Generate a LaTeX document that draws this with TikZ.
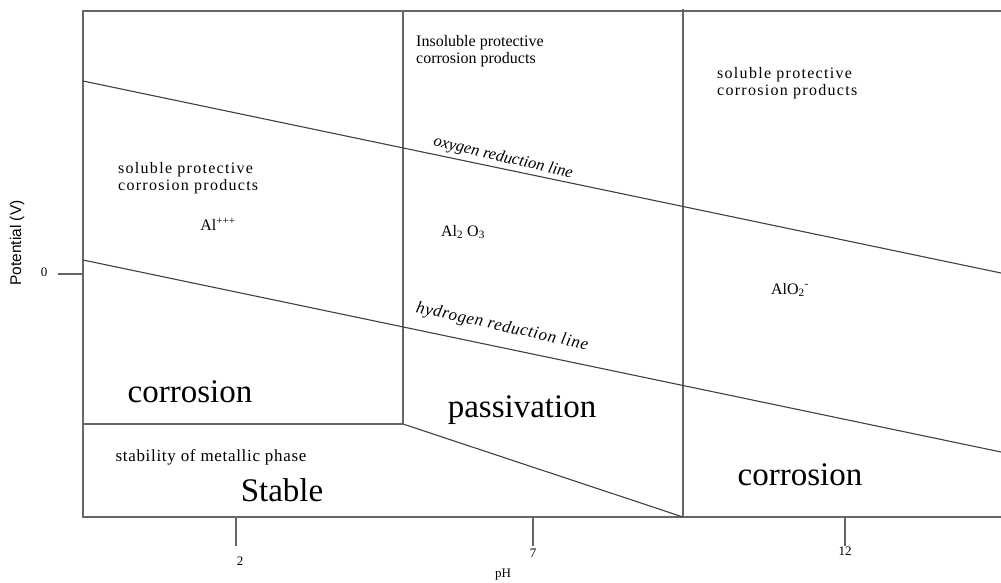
\documentclass[tikz,border=0pt]{standalone}
\usepackage{fontspec}
\setmainfont{Liberation Serif}
\newfontfamily\axfont{Liberation Sans}
\newfontfamily\widefont[LetterSpace=8]{Liberation Serif}
\newfontfamily\midfont[LetterSpace=4]{Liberation Serif}
\begin{document}
\begin{tikzpicture}[x=1pt,y=-1pt,
  frame/.style={draw=black!60,line width=1.5pt},
  bound/.style={draw=black!75,line width=1.1pt},
  small/.style={font=\fontsize{16}{17}\selectfont,inner sep=0pt,align=left},
  wide/.style={font=\widefont\fontsize{16}{17}\selectfont,inner sep=0pt,align=left},
  big/.style={font=\fontsize{33}{36}\selectfont,inner sep=0pt},
  lineLab/.style={font=\fontsize{16.5}{17}\selectfont\itshape,inner sep=0pt},
  tick/.style={font=\fontsize{13}{14}\selectfont,inner sep=0pt}]
\useasboundingbox (0,0) rectangle (1001,583);
% coordinates
\coordinate (TL) at (83,11);
\coordinate (TR) at (1001,11);
\coordinate (BL) at (83,517);
\coordinate (BR) at (1001,517);
\coordinate (V1t) at (403,11);
\coordinate (V1b) at (403,424);
\coordinate (H1l) at (83,424);
\coordinate (V2t) at (683,9);
\coordinate (V2b) at (683,517);
\coordinate (O1) at (83,81);
\coordinate (O2) at (1001,273);
\coordinate (Hy1) at (83,260);
\coordinate (Hy2) at (1001,452);
% frame
\draw[frame] (TR) -- (TL) -- (BL) -- (BR);
\draw[frame] (V1t) -- (V1b);
\draw[frame] (H1l) -- (V1b);
\draw[frame] (V2t) -- (V2b);
\draw[bound] (V1b) -- (V2b);
\draw[bound] (O1) -- (O2);
\draw[bound] (Hy1) -- (Hy2);
% ticks
\coordinate (t2) at (236,517); \coordinate (t2e) at (236,546);
\coordinate (t7) at (533,517); \coordinate (t7e) at (533,546);
\coordinate (t12) at (845,517); \coordinate (t12e) at (845,546);
\coordinate (t0) at (83,274); \coordinate (t0e) at (58,274);
\draw[frame] (t2) -- (t2e) (t7) -- (t7e) (t12) -- (t12e) (t0) -- (t0e);
\node[tick] (l2) at (240,561) {2};
\node[tick] (l7) at (533,553) {7};
\node[tick] (l12) at (845,551) {12};
\node[tick] (lpH) at (503,575) {pH};
\node[tick] (l0) at (44,272) {0};
\node[font=\axfont\fontsize{15.5}{16}\selectfont,inner sep=0pt,rotate=90] (ylab) at (17,243) {Potential (V)};
% region texts
\node[small,anchor=north west] (ins) at (416,35) {Insoluble protective\\corrosion products};
\node[wide,anchor=north west] (solR) at (717,67) {soluble protective\\corrosion products};
\node[wide,anchor=north west] (solL) at (118,162) {soluble protective\\corrosion products};
\node[small] (al3) at (218,224) {Al\textsuperscript{+++}};
\node[small] (al2o3) at (463,232) {Al\textsubscript{2} O\textsubscript{3}};
\node[small] (alo2) at (790,290) {AlO\textsubscript{2}\textsuperscript{-}};
\node[lineLab,rotate=-13] (oxl) at (503,158) {oxygen reduction line};
\node[lineLab,font=\midfont\fontsize{17}{18}\selectfont\itshape,rotate=-12.4] (hyl) at (502,327) {hydrogen reduction line};
\node[big] (corL) at (190,392) {corrosion};
\node[big] (pas) at (522,410) {passivation};
\node[big] (stab) at (282,490) {Stable};
\node[font=\midfont\fontsize{17}{17}\selectfont,inner sep=0pt] (stabtxt) at (211,457) {stability of metallic phase};
\node[big] (corR) at (800,475) {corrosion};
\end{tikzpicture}
\end{document}
